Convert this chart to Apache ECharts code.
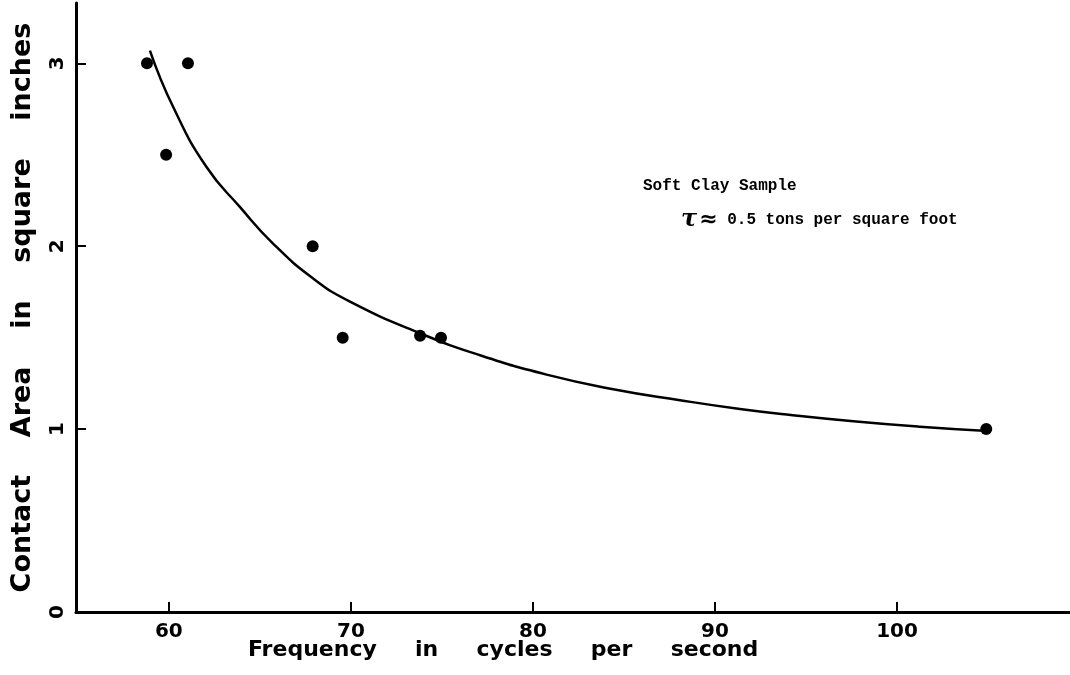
<!DOCTYPE html>
<html>
<head>
<meta charset="utf-8">
<title>Contact Area vs Frequency</title>
<script src="https://cdn.jsdelivr.net/npm/echarts@6/dist/echarts.min.js"></script>
<style>
  html, body { margin: 0; padding: 0; background: #fff; }
  #chart { width: 1070px; height: 675px; }
</style>
</head>
<body>
<div id="chart"></div>
<script>
// Measured samples: frequency (cps) and contact area (sq in)
const sampleFreq = [58.8, 61.05, 59.85, 67.9, 69.55, 73.8, 74.95, 104.9];
const sampleArea = [3.0, 3.0, 2.5, 2.0, 1.5, 1.51, 1.5, 1.0];

// Hand-fitted trend curve
const curveFreq = [58.96, 60.24, 62.07, 63.9, 65.71, 67.91, 69.95, 73.83, 77.09, 80.75, 84.41, 88.08, 91.37, 93.94, 97.6, 101.26, 104.74];
const curveArea = [3.07, 2.761, 2.433, 2.215, 2.016, 1.825, 1.697, 1.523, 1.404, 1.298, 1.218, 1.158, 1.11, 1.08, 1.043, 1.013, 0.991];

// Axis ticks
const xTicks = [60, 70, 80, 90, 100];
const yTicks = [0, 1, 2, 3];

const axisFont = 'DejaVu Sans';
const ink = '#000';

const chart = echarts.init(document.getElementById('chart'), null, { renderer: 'canvas' });

chart.setOption({
  backgroundColor: '#fff',
  animation: false,
  grid: { left: 76, right: 0, top: 3, bottom: 63, containLabel: false, outerBoundsMode: 'none' },
  xAxis: {
    type: 'value',
    min: 54.9,
    max: 109.5,
    axisLine: { show: true, onZero: false, lineStyle: { color: ink, width: 3 } },
    axisTick: { show: true, inside: true, length: 10, customValues: xTicks, lineStyle: { color: ink, width: 2 } },
    axisLabel: {
      customValues: xTicks,
      margin: 10,
      color: ink,
      fontFamily: axisFont,
      fontWeight: 'bold',
      fontSize: 20
    },
    splitLine: { show: false }
  },
  yAxis: {
    type: 'value',
    min: 0,
    max: 3.33,
    name: 'Contact    Area    in    square    inches',
    nameLocation: 'middle',
    nameRotate: 90,
    nameGap: 40,
    nameTextStyle: { color: ink, fontFamily: axisFont, fontWeight: 'bold', fontSize: 27 },
    axisLine: { show: true, onZero: false, lineStyle: { color: ink, width: 3 } },
    axisTick: { show: true, inside: true, length: 10, customValues: yTicks, lineStyle: { color: ink, width: 2 } },
    axisLabel: {
      customValues: yTicks,
      rotate: 90,
      margin: 8,
      color: ink,
      fontFamily: axisFont,
      fontWeight: 'bold',
      fontSize: 20
    },
    splitLine: { show: false }
  },
  graphic: [
    {
      type: 'text',
      left: 248,
      top: 639,
      style: {
        text: 'Frequency     in     cycles     per     second',
        fill: ink,
        font: 'bold 22px "DejaVu Sans"'
      }
    },
    {
      type: 'text',
      left: 643,
      top: 178,
      style: {
        text: 'Soft Clay Sample',
        fill: ink,
        font: 'bold 16px "Liberation Mono"'
      }
    },
    {
      type: 'text',
      left: 681,
      top: 208,
      style: {
        text: '{tau|τ}{ap|≈}{t| 0.5 tons per square foot}',
        rich: {
          tau: { fill: ink, font: 'italic bold 24px "DejaVu Serif"', verticalAlign: 'middle' },
          ap: { fill: ink, font: 'bold 22px "DejaVu Sans"', verticalAlign: 'middle', padding: [0, 0, 0, 2] },
          t: { fill: ink, font: 'bold 16px "Liberation Mono"', verticalAlign: 'middle' }
        }
      }
    }
  ],
  series: [
    {
      name: 'Trend',
      type: 'line',
      data: curveFreq.map((f, i) => [f, curveArea[i]]),
      smooth: 0.5,
      showSymbol: false,
      lineStyle: { color: ink, width: 2.5 },
      z: 2
    },
    {
      name: 'Samples',
      type: 'scatter',
      data: sampleFreq.map((f, i) => [f, sampleArea[i]]),
      symbol: 'circle',
      symbolSize: 12,
      itemStyle: { color: ink, opacity: 1 },
      z: 3
    }
  ]
});
</script>
</body>
</html>
